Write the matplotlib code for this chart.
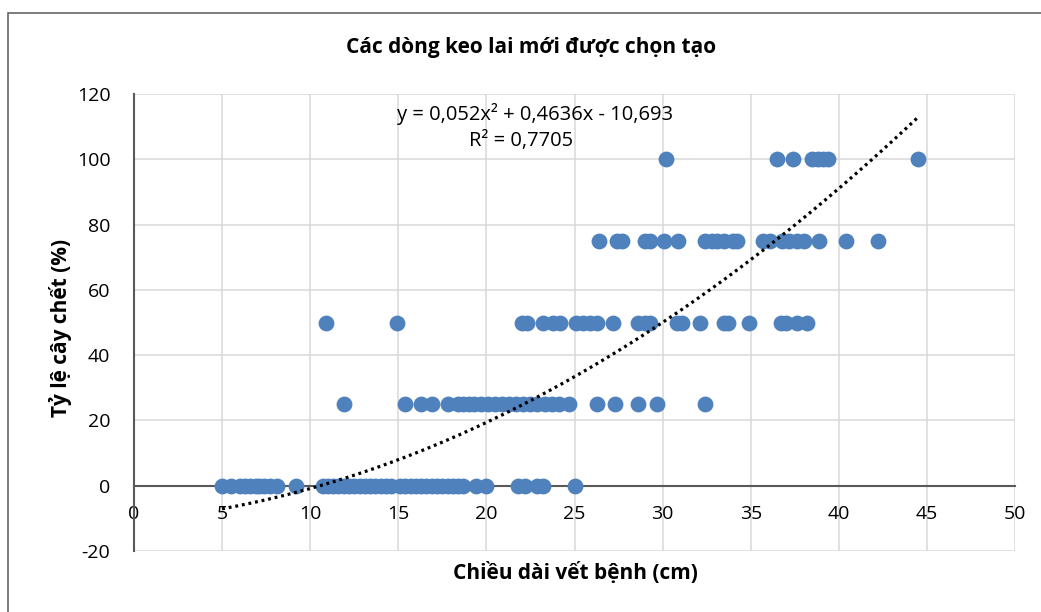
import numpy as np
import matplotlib
matplotlib.use("Agg")
import matplotlib.pyplot as plt
from matplotlib.patches import Rectangle

plt.rcParams['font.family'] = ['Open Sans', 'DejaVu Sans']

# ---- data (lesion length in cm at each mortality level %) ----
len_0 = [5.0, 5.5, 6.0, 6.3, 6.6, 6.9, 7.1, 7.4, 7.7, 8.1, 9.2, 10.7, 11.0, 11.3,
         11.6, 11.9, 12.2, 12.5, 12.8, 13.1, 13.4, 13.7, 14.0, 14.3, 14.6, 15.1,
         15.4, 15.7, 16.0, 16.3, 16.6, 16.9, 17.2, 17.5, 17.8, 18.1, 18.4, 18.7,
         19.4, 20.0, 21.8, 22.2, 22.9, 23.2, 25.0]
len_25 = [11.9, 15.4, 16.3, 16.9, 17.8, 18.4, 18.7, 19.0, 19.3, 19.7, 20.1, 20.5,
          20.9, 21.3, 21.7, 22.1, 22.5, 22.9, 23.3, 23.7, 24.1, 24.7, 26.3, 27.3,
          28.6, 29.7, 32.4]
len_50 = [10.9, 14.9, 22.0, 22.3, 23.2, 23.8, 24.2, 25.1, 25.5, 25.9, 26.3, 27.2,
          28.6, 29.0, 29.3, 30.8, 31.1, 32.1, 33.5, 33.7, 34.9, 36.7, 37.0, 37.6, 38.2]
len_75 = [26.4, 27.4, 27.7, 29.0, 29.3, 30.1, 30.9, 32.4, 32.8, 33.1, 33.5, 34.0,
          34.2, 35.7, 36.1, 36.8, 37.2, 37.6, 38.0, 38.9, 40.4, 42.2]
len_100 = [30.2, 36.5, 37.4, 38.5, 38.8, 39.1, 39.4, 44.5]
levels = [0, 25, 50, 75, 100]
groups = [len_0, len_25, len_50, len_75, len_100]

# polynomial trendline coefficients (from chart)
coef_a, coef_b, coef_c = 0.052, 0.4636, -10.693

title = "Các dòng keo lai mới được chọn tạo"
xlabel = "Chiều dài vết bệnh (cm)"
ylabel = "Tỷ lệ cây chết (%)"
eq_text = "y = 0,052x² + 0,4636x - 10,693"
r2_text = "R² = 0,7705"
xticks = [0, 5, 10, 15, 20, 25, 30, 35, 40, 45, 50]
yticks = [-20, 0, 20, 40, 60, 80, 100, 120]

x_all = np.concatenate([np.array(g, float) for g in groups])
y_all = np.concatenate([np.full(len(g), lv, float) for g, lv in zip(groups, levels)])

W, H = 1041, 612
fig = plt.figure(figsize=(W / 100, H / 100), dpi=100)

# outer chart border
fig.patches.append(Rectangle((8 / W, -0.05), 1.1, 1 - 13 / H + 0.05,
                             transform=fig.transFigure, fill=False,
                             edgecolor='#595959', linewidth=1.1, clip_on=False))

ax = fig.add_axes([134 / W, 1 - 551 / H, 881 / W, 457 / H])
ax.set_xlim(0, 50)
ax.set_ylim(-20, 120)
ax.set_xticks(xticks)
ax.set_yticks(yticks)
ax.grid(True, color='#D9D9D9', linewidth=1.1)
ax.set_axisbelow(True)

for s in ['top', 'right']:
    ax.spines[s].set_visible(False)
ax.spines['left'].set_color('#595959')
ax.spines['left'].set_linewidth(1.5)
ax.spines['bottom'].set_position(('data', 0))
ax.spines['bottom'].set_color('#595959')
ax.spines['bottom'].set_linewidth(1.5)
ax.spines['bottom'].set_zorder(1.5)

ax.tick_params(axis='both', length=0, labelsize=14, colors='black')
ax.tick_params(axis='y', pad=17)
ax.tick_params(axis='x', pad=14)
ax.set_xticklabels([str(t) for t in xticks])
ax.set_yticklabels([str(t) for t in yticks])

ax.scatter(x_all, y_all, s=130, color='#4F81BD', zorder=3, linewidths=0)

xt = np.linspace(min(x_all), max(x_all), 300)
yt = coef_a * xt ** 2 + coef_b * xt + coef_c
ax.plot(xt, yt, color='black', linewidth=2.3, linestyle=(0, (0.9, 1.2)), zorder=4)

fig.text(531 / W, 1 - 47 / H, title, ha='center', va='center', fontsize=15, fontweight='bold')
fig.text(575 / W, 1 - 573 / H, xlabel, ha='center', va='center', fontsize=15, fontweight='bold')
fig.text(60 / W, 1 - 328 / H, ylabel, ha='center', va='center', fontsize=15,
         fontweight='bold', rotation=90)
fig.text(535 / W, 1 - 114 / H, eq_text, ha='center', va='center', fontsize=14.5)
fig.text(521 / W, 1 - 141 / H, r2_text, ha='center', va='center', fontsize=14.5)

fig.savefig('out.png', dpi=100)
